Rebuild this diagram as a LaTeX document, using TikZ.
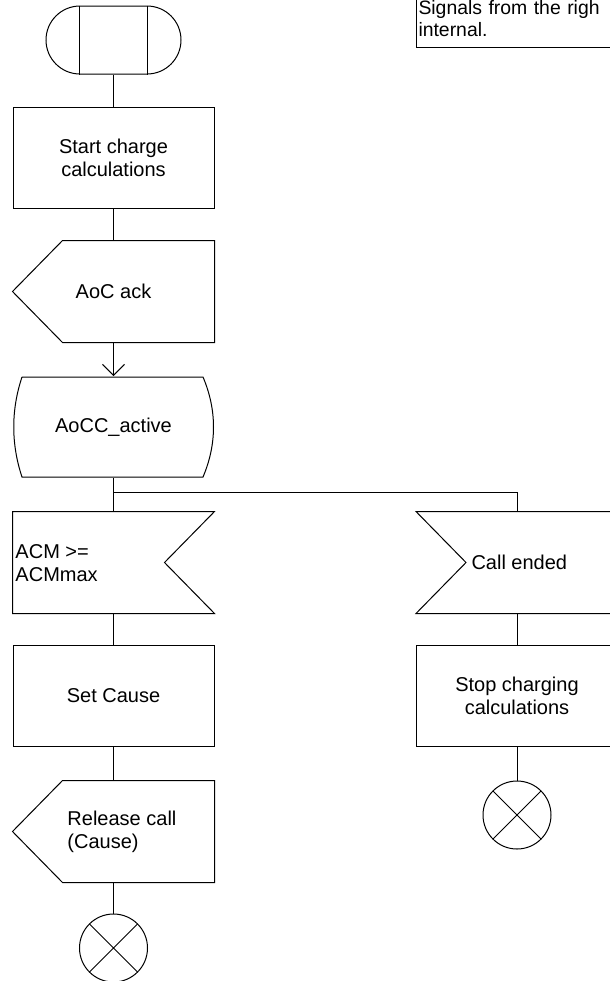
\documentclass[tikz,border=0pt]{standalone}
\usepackage{fontspec}
\setmainfont{Liberation Sans}
\usetikzlibrary{arrows.meta,positioning}

\begin{document}
\begin{tikzpicture}[
    x=0.5pt, y=-0.5pt,
    line width=0.5pt,
    every node/.style={font=\fontsize{10}{11.5}\selectfont, inner sep=0pt},
    task/.style={draw, minimum width=100.5pt, minimum height=50.5pt, align=center},
    frame/.style={minimum width=100.5pt, minimum height=50.5pt, align=center},
    endstop/.style={draw, circle, minimum size=34pt, path picture={
        \draw (path picture bounding box.north west) -- (path picture bounding box.south east)
              (path picture bounding box.south west) -- (path picture bounding box.north east);}},
    arrow/.style={-{Straight Barb[length=5.5pt,width=11pt]}}
]
\useasboundingbox (0,0) rectangle (610,981);
\clip (0,0) rectangle (610,981);

% note in the corner
\node[draw, anchor=south west, text width=105pt, align=left, inner xsep=1pt, inner ysep=5.5pt,
      font=\fontsize{9.7}{11}\selectfont] (note) at (416,48) {Signals from the righ\\internal.};

% left branch
\node[draw, rounded corners=17pt, minimum width=67.5pt, minimum height=34pt] (go) at (113.5,40) {};
\draw ([xshift=17pt]go.north west) -- ([xshift=17pt]go.south west)
      ([xshift=-17pt]go.north east) -- ([xshift=-17pt]go.south east);
\node[task] (calc) at (113.5,158) {Start charge\\calculations};
\node[frame] (ack) at (113.5,291.5) {AoC ack};
\draw (ack.north east) -- (ack.south east) -- ([xshift=25pt]ack.south west) -- (ack.west)
      -- ([xshift=25pt]ack.north west) -- cycle;
\node[frame] (state) at (113.5,427) {AoCC\_active};
\draw (22,377) -- (203,377) .. controls (217,410) and (217,444) .. (203,477)
      -- (22,477) .. controls (11,444) and (11,410) .. (22,377);
\node[frame] (acm) at (113.5,562.5) {};
\draw (acm.north west) -- (acm.north east) -- ([xshift=-25pt]acm.east) -- (acm.south east)
      -- (acm.south west) -- cycle;
\node[anchor=west, align=left] (acmtext) at (15,563) {ACM >=\\ACMmax};
\node[task] (cause) at (113.5,695.5) {Set Cause};
\node[frame] (rel) at (113.5,831.5) {};
\draw (rel.north east) -- (rel.south east) -- ([xshift=25pt]rel.south west) -- (rel.west)
      -- ([xshift=25pt]rel.north west) -- cycle;
\node[anchor=west, align=left] (reltext) at (67,832) {Release call\\(Cause)};
\node[endstop] (stopa) at (113.5,948) {};

% right branch
\node[frame] (ended) at (517,562.5) {};
\draw (ended.north west) -- (ended.north east) -- (ended.south east) -- (ended.south west)
      -- ([xshift=25pt]ended.west) -- cycle;
\node[anchor=west] (endedtext) at (471,562) {Call ended};
\node[task] (halt) at (517,695.5) {Stop charging\\calculations};
\node[endstop] (stopb) at (517,815) {};

% connectors
\coordinate (fork) at (113.5,492);
\draw (go) -- (calc);
\draw (calc) -- (ack);
\draw[arrow] (ack) -- (state);
\draw (state) -- (acm);
\draw (fork) -| (ended);
\draw (acm) -- (cause);
\draw (cause) -- (rel);
\draw (rel) -- (stopa);
\draw (ended) -- (halt);
\draw (halt) -- (stopb);
\end{tikzpicture}
\end{document}
